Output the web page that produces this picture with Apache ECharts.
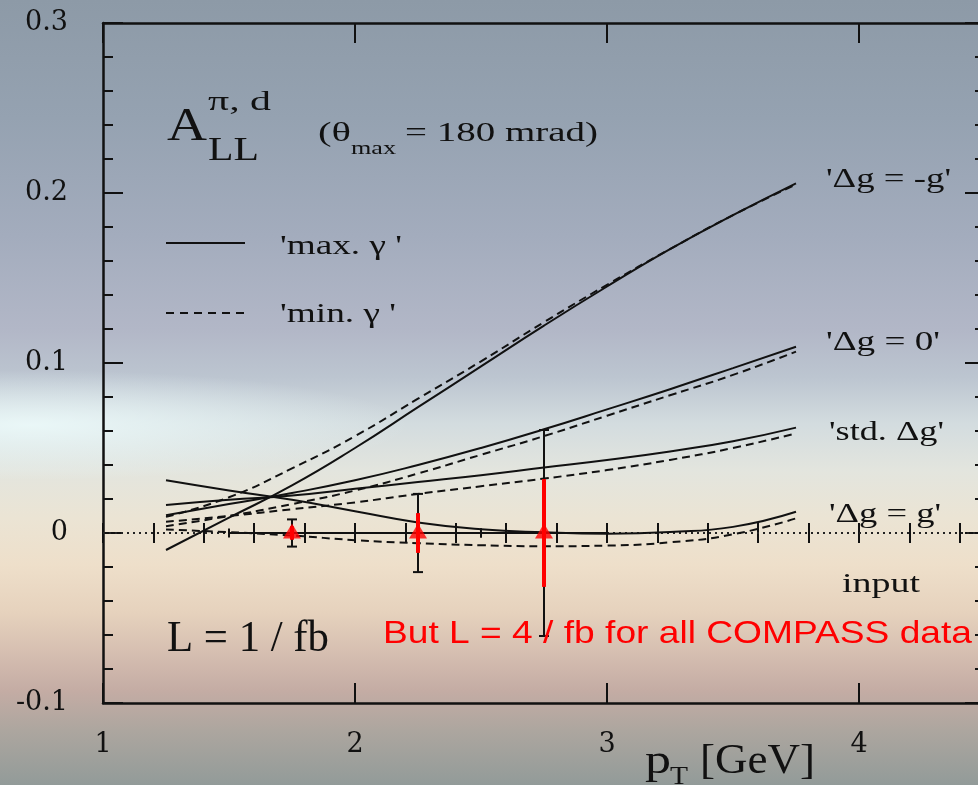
<!DOCTYPE html>
<html>
<head>
<meta charset="utf-8">
<script src="https://cdn.jsdelivr.net/npm/echarts/dist/echarts.min.js"></script>
<style>
html, body { margin: 0; padding: 0; }
#chart {
  width: 978px; height: 785px;
  background:
    radial-gradient(ellipse 380px 55px at 30px 425px, rgba(236,250,250,0.9), rgba(236,250,250,0) 100%),
    linear-gradient(to bottom,
      #8d9aa7 0%, #95a2b1 15%, #a3acbd 30%, #b2b7c7 42%, #bcc5d0 48%,
      #d3dcdf 54%, #e3e5de 60%, #ebe4d4 66%, #eedfca 72%, #e6d2bd 78%,
      #d6bfb1 83%, #c4aca4 88%, #ada69f 93%, #929b99 100%);
}
</style>
</head>
<body>
<div id="chart"></div>
<script>
// ---------------- data ----------------
const xTickLabels = ['1', '2', '3', '4'];
const yTickLabels = ['-0.1', '0', '0.1', '0.2', '0.3'];

const pT = [1.25, 1.5, 1.75, 2.0, 2.25, 2.5, 2.75, 3.0, 3.25, 3.5, 3.75];
const negGMax  = [-0.010, 0.009, 0.028, 0.050, 0.074, 0.098, 0.122, 0.145, 0.167, 0.187, 0.2057];
const negGMin  = [0.0095, 0.021, 0.038, 0.057, 0.079, 0.101, 0.124, 0.146, 0.167, 0.187, 0.205];
const zeroMax  = [0.0105, 0.017, 0.0235, 0.031, 0.040, 0.050, 0.061, 0.0727, 0.0846, 0.097, 0.1096];
const zeroMin  = [0.004, 0.010, 0.017, 0.025, 0.035, 0.046, 0.057, 0.069, 0.081, 0.093, 0.1067];
const stdMax   = [0.0165, 0.0195, 0.022, 0.026, 0.030, 0.034, 0.0385, 0.043, 0.048, 0.054, 0.062];
const stdMin   = [0.0066, 0.010, 0.014, 0.018, 0.023, 0.0275, 0.032, 0.037, 0.043, 0.050, 0.0586];
const posGMax  = [0.031, 0.025, 0.0195, 0.0128, 0.0062, 0.0022, 0.0004, -0.0004, 0.0006, 0.0036, 0.0125];
const posGMin  = [0.002, 0.0005, -0.0015, -0.0042, -0.006, -0.0072, -0.0078, -0.0074, -0.0055, -0.0008, 0.0086];

const inputX = [1.75, 2.25, 2.75];
const inputY = [0, 0, 0];
const errL1 = [0.008, 0.023, 0.0606];   // L = 1 / fb
const errL4 = [0.004, 0.0117, 0.0317];  // L = 4 / fb
const binHalfWidth = [0.25, 0.25, 0.25];

const zeroLineX = [1, 4.5];
const zeroLineY = [0, 0];

// ---------------- helpers ----------------
const pairs = (xs, ys) => xs.map((x, i) => [x, ys[i]]);
const INK = '#111';
const TICKFONT = '"DejaVu Serif", serif';
const meas = document.createElement('canvas').getContext('2d');
function label(text, left, baseline, size, width, opt) {
  opt = opt || {};
  const fam = opt.family || '"Liberation Serif"';
  const font = size + 'px ' + fam;
  meas.font = font;
  const natural = meas.measureText(text).width;
  const sx = width ? width / natural : 1;
  return {
    type: 'text', x: left, y: baseline - 0.34 * size, scaleX: sx, z: 50, silent: true,
    style: { text: text, font: font, fill: opt.color || INK,
      textAlign: 'left', textVerticalAlign: 'middle', align: 'left', verticalAlign: 'middle' }
  };
}

function curve(name, ys, dashed) {
  return {
    name: name, type: 'line', data: pairs(pT, ys), symbol: 'none', smooth: 0.5,
    xAxisIndex: 0, yAxisIndex: 0, z: 3, silent: true,
    lineStyle: { color: INK, width: 2, type: dashed ? [8, 5] : 'solid' }
  };
}

const chart = echarts.init(document.getElementById('chart'), null, { renderer: 'canvas' });

const axisLine = { show: true, onZero: false, lineStyle: { color: INK, width: 2.5 } };
const tickStyle = { color: INK, width: 2 };
const X0 = { type: 'value', min: 1, max: 4.5, gridIndex: 0, splitLine: { show: false } };

const option = {
  backgroundColor: 'transparent',
  animation: false,
  grid: { left: 103, top: 23, width: 882, height: 680, containLabel: false, outerBoundsMode: 'none' },
  xAxis: [
    Object.assign({}, X0, {
      position: 'bottom', interval: 1, axisLine: axisLine,
      axisTick: { show: true, inside: true, length: 20, lineStyle: tickStyle },
      axisLabel: { show: true, margin: 28, fontFamily: TICKFONT, fontSize: 27, color: INK,
        formatter: v => (Number.isInteger(v) && v >= 1 && v <= 4) ? xTickLabels[v - 1] : '' }
    }),
    Object.assign({}, X0, {
      position: 'bottom', interval: 0.2, axisLine: { show: false },
      axisTick: { show: true, inside: true, length: 10, lineStyle: tickStyle },
      axisLabel: { show: false }
    }),
    Object.assign({}, X0, {
      position: 'top', interval: 1, axisLine: axisLine,
      axisTick: { show: true, inside: true, length: 20, lineStyle: tickStyle },
      axisLabel: { show: false }
    }),
    Object.assign({}, X0, {
      position: 'top', interval: 0.2, axisLine: { show: false },
      axisTick: { show: true, inside: true, length: 10, lineStyle: tickStyle },
      axisLabel: { show: false }
    })
  ],
  yAxis: [
    {
      type: 'value', min: -0.1, max: 0.3, interval: 0.1, position: 'left',
      axisLine: axisLine,
      axisTick: { show: true, inside: true, length: 20, lineStyle: tickStyle },
      minorTick: { show: true, splitNumber: 5, length: 10, lineStyle: tickStyle },
      splitLine: { show: false }, minorSplitLine: { show: false },
      axisLabel: { show: true, margin: 35, fontFamily: TICKFONT, fontSize: 27, color: INK,
        formatter: v => yTickLabels[Math.round((v + 0.1) * 10)] }
    },
    {
      type: 'value', min: -0.1, max: 0.3, interval: 0.1, position: 'right',
      axisLine: axisLine,
      axisTick: { show: true, inside: true, length: 20, lineStyle: tickStyle },
      minorTick: { show: true, splitNumber: 5, length: 10, lineStyle: tickStyle },
      splitLine: { show: false }, minorSplitLine: { show: false },
      axisLabel: { show: false }
    }
  ],
  series: [
    {
      name: 'zero', type: 'line', data: pairs(zeroLineX, zeroLineY), symbol: 'none', z: 1, silent: true,
      lineStyle: { color: '#222', width: 2, type: [2, 4] }
    },
    curve("'Δg = -g' max", negGMax, false),
    curve("'Δg = -g' min", negGMin, true),
    curve("'Δg = 0' max", zeroMax, false),
    curve("'Δg = 0' min", zeroMin, true),
    curve("'std. Δg' max", stdMax, false),
    curve("'std. Δg' min", stdMin, true),
    curve("'Δg = g' max", posGMax, false),
    curve("'Δg = g' min", posGMin, true),
    {
      name: 'bins', type: 'custom', z: 4, silent: true,
      data: inputX.map((x, i) => [x, inputY[i], binHalfWidth[i]]),
      encode: { x: 0, y: 1 },
      renderItem: function (params, api) {
        const x = api.value(0), y = api.value(1), h = api.value(2);
        const a = api.coord([x - h, y]), b = api.coord([x + h, y]);
        const st = { stroke: INK, lineWidth: 2 };
        return { type: 'group', children: [
          { type: 'line', shape: { x1: a[0], y1: a[1], x2: b[0], y2: b[1] }, style: st },
          { type: 'line', shape: { x1: a[0], y1: a[1] - 4.5, x2: a[0], y2: a[1] + 4.5 }, style: st },
          { type: 'line', shape: { x1: b[0], y1: b[1] - 4.5, x2: b[0], y2: b[1] + 4.5 }, style: st }
        ] };
      }
    },
    {
      name: 'L = 1 / fb', type: 'custom', z: 5, silent: true,
      data: inputX.map((x, i) => [x, inputY[i], errL1[i]]),
      encode: { x: 0, y: 1 },
      renderItem: function (params, api) {
        const x = api.value(0), y = api.value(1), e = api.value(2);
        const t = api.coord([x, y + e]), b = api.coord([x, y - e]);
        const st = { stroke: INK, lineWidth: 2 };
        return { type: 'group', children: [
          { type: 'line', shape: { x1: t[0], y1: t[1], x2: b[0], y2: b[1] }, style: st },
          { type: 'line', shape: { x1: t[0] - 5, y1: t[1], x2: t[0] + 5, y2: t[1] }, style: st },
          { type: 'line', shape: { x1: b[0] - 5, y1: b[1], x2: b[0] + 5, y2: b[1] }, style: st }
        ] };
      }
    },
    {
      name: 'L = 4 / fb', type: 'custom', z: 6, silent: true,
      data: inputX.map((x, i) => [x, inputY[i], errL4[i]]),
      encode: { x: 0, y: 1 },
      renderItem: function (params, api) {
        const x = api.value(0), y = api.value(1), e = api.value(2);
        const t = api.coord([x, y + e]), b = api.coord([x, y - e]);
        return { type: 'line', shape: { x1: t[0], y1: t[1], x2: b[0], y2: b[1] },
          style: { stroke: '#ff0000', lineWidth: 4 } };
      }
    },
    {
      name: 'input', type: 'scatter', data: pairs(inputX, inputY), z: 7, silent: true,
      symbol: 'triangle', symbolSize: [18, 15], symbolOffset: [0, -2], itemStyle: { color: '#ff0000' }
    }
  ],
  graphic: [
    label('A', 167, 144, 46, 40),
    label('π, d', 208, 112, 27, 63),
    label('LL', 208, 163, 34, 51),
    label('(θ', 318, 143, 28, 33),
    label('max', 351, 155, 19, 45),
    label('= 180 mrad)', 405, 143, 28, 193),
    { type: 'line', shape: { x1: 166, y1: 243, x2: 245, y2: 243 }, style: { stroke: INK, lineWidth: 2 }, z: 50, silent: true },
    label("'max. γ '", 280, 256, 28, 122),
    { type: 'line', shape: { x1: 166, y1: 313, x2: 245, y2: 313 }, style: { stroke: INK, lineWidth: 2, lineDash: [8, 6] }, z: 50, silent: true },
    label("'min. γ '", 280, 324, 28, 116),
    label("'Δg = -g'", 826, 189, 27, 125),
    label("'Δg = 0'", 826, 352, 27, 114),
    label("'std. Δg'", 829, 442, 27, 115),
    label("'Δg = g'", 829, 524, 27, 112),
    label('input', 842, 594, 28, 78),
    label('L = 1 / fb', 167, 654, 44, 162),
    label('But L = 4 / fb for all COMPASS data', 383, 645, 32, 589, { family: '"Liberation Sans"', color: '#ff0000' }),
    label('p', 645, 776, 42, 26),
    label('T', 670, 786, 26, 18),
    label('[GeV]', 700, 776, 42, 115)
  ]
};
chart.setOption(option);
</script>
</body>
</html>
